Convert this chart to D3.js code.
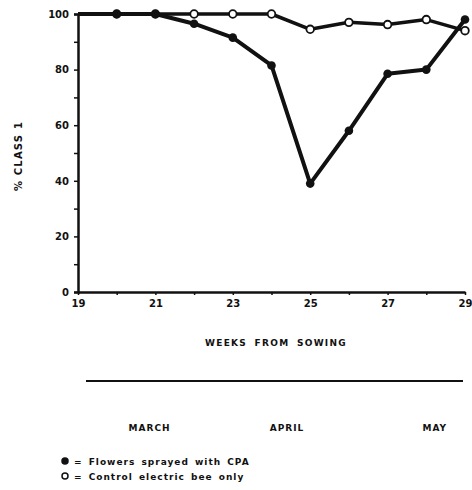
<!DOCTYPE html>
<html>
<head>
<meta charset="utf-8">
<script src="https://cdn.jsdelivr.net/npm/d3@7"></script>
<style>
  body { margin: 0; background: #fff; }
  text { font-family: "DejaVu Sans", sans-serif; font-weight: bold; fill: #111; }
</style>
</head>
<body>
<div id="container"></div>
<script>
var weeks = [19, 20, 21, 22, 23, 24, 25, 26, 27, 28, 29];
var sprayedCPA = [100, 100, 100, 96.5, 91.5, 81.5, 39, 58, 78.5, 80, 98];
var controlBee = [100, 100, 100, 100, 100, 100, 94.5, 97, 96.2, 98, 94];
var xTickLabels = [19, 21, 23, 25, 27, 29];
var yTickLabels = [0, 20, 40, 60, 80, 100];
var months = ["MARCH", "APRIL", "MAY"];
var monthPos = [20.85, 24.4, 28.22];
var legendLabels = ["=  Flowers  sprayed  with  CPA", "=  Control  electric  bee  only"];

var W = 472, H = 490;
var margin = { top: 14, left: 78, right: 7, bottom: 198 };

var svg = d3.select("#container").append("svg")
    .attr("width", W)
    .attr("height", H);

var x = d3.scaleLinear().domain([19, 29]).range([margin.left, W - margin.right]);
var y = d3.scaleLinear().domain([0, 100]).range([H - margin.bottom, margin.top]);

// axes
var yAxis = svg.append("g")
    .attr("transform", `translate(${margin.left},0)`)
    .call(d3.axisLeft(y).tickValues(d3.range(0, 101, 10)).tickSize(4)
        .tickFormat(d => yTickLabels.includes(d) ? d : ""));
yAxis.select(".domain").attr("stroke-width", 2.5).attr("stroke", "#111");
yAxis.selectAll(".tick line").attr("stroke-width", 1.5).attr("stroke", "#111");
yAxis.selectAll(".tick text").attr("font-size", 10).attr("dx", -2);

var xAxis = svg.append("g")
    .attr("transform", `translate(0,${y(0)})`)
    .call(d3.axisBottom(x).tickValues(weeks).tickSize(3).tickSizeOuter(0)
        .tickFormat(d => xTickLabels.includes(d) ? d : ""));
xAxis.select(".domain").attr("stroke-width", 2.5).attr("stroke", "#111");
xAxis.selectAll(".tick line").attr("stroke-width", 1.5).attr("stroke", "#111");
xAxis.selectAll(".tick text").attr("font-size", 10).attr("dy", "0.9em");

// y label
svg.append("text")
    .attr("transform", `translate(22,${y(50) + 3}) rotate(-90)`)
    .attr("text-anchor", "middle")
    .attr("font-size", 10)
    .style("letter-spacing", "1.2px")
    .text("% CLASS 1");

// lines
var line = d3.line().x((d, i) => x(weeks[i])).y(d => y(d));

svg.append("path").datum(controlBee)
    .attr("d", line).attr("fill", "none")
    .attr("stroke", "#111").attr("stroke-width", 3.5).attr("stroke-linejoin", "round");
svg.append("path").datum(sprayedCPA)
    .attr("d", line).attr("fill", "none")
    .attr("stroke", "#111").attr("stroke-width", 4).attr("stroke-linejoin", "round");

svg.selectAll("circle.open").data(controlBee.slice(1))
    .enter().append("circle").attr("class", "open")
    .attr("cx", (d, i) => x(weeks[i + 1])).attr("cy", d => y(d))
    .attr("r", 3.8).attr("fill", "#fff").attr("stroke", "#111").attr("stroke-width", 1.8);

svg.selectAll("circle.filled").data(sprayedCPA.slice(1))
    .enter().append("circle").attr("class", "filled")
    .attr("cx", (d, i) => x(weeks[i + 1])).attr("cy", d => y(d))
    .attr("r", 4.3).attr("fill", "#111");

// x title
svg.append("text")
    .attr("x", 276).attr("y", 346)
    .attr("text-anchor", "middle")
    .attr("font-size", 9)
    .style("letter-spacing", "1.3px")
    .style("word-spacing", "3px")
    .text("WEEKS FROM SOWING");

// month bar
svg.append("line")
    .attr("x1", 86).attr("x2", 463)
    .attr("y1", 381).attr("y2", 381)
    .attr("stroke", "#111").attr("stroke-width", 2);

svg.selectAll("text.month").data(months)
    .enter().append("text").attr("class", "month")
    .attr("x", (d, i) => x(monthPos[i])).attr("y", 431)
    .attr("text-anchor", "middle")
    .attr("font-size", 9)
    .style("letter-spacing", "1px")
    .text(d => d);

// legend
var legend = svg.selectAll("g.legend").data(legendLabels)
    .enter().append("g").attr("class", "legend")
    .attr("transform", (d, i) => `translate(65,${461 + i * 15})`);
legend.append("circle")
    .attr("r", 3)
    .attr("fill", (d, i) => i === 0 ? "#111" : "#fff")
    .attr("stroke", "#111").attr("stroke-width", 1.5);
legend.append("text")
    .attr("x", 9).attr("y", 3.5)
    .attr("font-size", 9)
    .style("letter-spacing", "1px")
    .style("word-spacing", "2px")
    .text(d => d);
</script>
</body>
</html>
